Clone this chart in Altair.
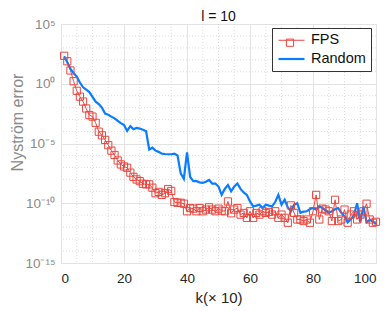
import altair as alt
import pandas as pd

# ---- data (log10 of the Nyström error) ----
k_values = list(range(1, 101))

fps_log10 = [
    2.34, 1.88, 1.11, 0.21, -0.59, -1.08, -1.49, -2.07, -2.62, -2.75,
    -3.27, -4.01, -4.32, -4.70, -5.14, -5.60, -5.96, -6.42, -6.75, -6.92,
    -7.03, -7.44, -7.79, -8.01, -8.15, -8.37, -8.42, -8.42, -8.70, -9.16,
    -9.05, -9.30, -9.16, -8.81, -8.97, -9.90, -9.96, -9.96, -10.04, -10.67,
    -10.40, -10.45, -10.67, -10.40, -10.67, -10.53, -10.34, -10.53, -10.67, -10.45,
    -10.62, -10.67, -9.85, -10.84, -10.53, -10.40, -10.95, -10.81, -11.22, -10.67,
    -11.22, -10.81, -10.95, -10.67, -10.81, -10.73, -10.95, -10.67, -11.22, -10.95,
    -11.22, -11.63, -10.18, -10.81, -11.36, -11.36, -11.49, -11.36, -11.63, -10.67,
    -9.30, -11.36, -10.45, -10.53, -10.67, -11.49, -9.71, -11.49, -11.36, -10.53,
    -11.63, -10.95, -10.67, -11.36, -10.95, -10.67, -10.04, -11.36, -11.63, -11.55,
]

random_log10 = [
    2.30, 1.80, 1.25, 0.90, 0.60, 0.10, -0.30, -0.50, -0.70, -1.10,
    -1.50, -1.70, -2.00, -2.50, -2.60, -2.75, -2.90, -3.10, -3.30, -3.45,
    -3.95, -3.55, -3.80, -3.70, -3.75, -3.85, -3.95, -5.50, -5.35, -5.60,
    -5.70, -5.85, -5.88, -5.90, -5.90, -5.85, -6.00, -7.50, -7.95, -5.75,
    -7.80, -8.15, -8.15, -8.25, -8.30, -8.20, -8.05, -8.35, -8.35, -8.60,
    -9.30, -8.80, -8.47, -9.00, -8.60, -8.34, -8.80, -9.10, -9.30, -9.85,
    -10.25, -10.20, -10.12, -10.40, -10.12, -10.20, -10.26, -9.90, -9.30, -10.12,
    -9.70, -10.34, -10.67, -10.12, -10.00, -10.80, -10.70, -10.67, -10.50, -10.40,
    -10.53, -10.26, -10.40, -10.60, -10.80, -10.67, -10.50, -10.40, -10.80, -11.10,
    -11.60, -11.35, -11.00, -10.00, -11.60, -10.26, -11.60, -11.40, -11.50, -11.76,
]

series_names = ["FPS", "Random"]
series_colors = ["#e8473f", "#0a7cff"]
series_widths = [1, 2.2]
chart_title = "l = 10"

y_major = [1e5, 1e0, 1e-5, 1e-10, 1e-15]
y_minor = [10.0 ** e for e in range(-14, 5) if e % 5 != 0]
x_minor = [v for v in range(5, 100, 5) if v % 20 != 0]

FONT = "Liberation Sans"
W, H = 315, 239

rows = []
for name, logs in zip(series_names, [fps_log10, random_log10]):
    for k, lv in zip(k_values, logs):
        rows.append({"k": k, "err": 10.0 ** lv, "series": name})
df = pd.DataFrame(rows)
df_fps = df[df["series"] == "FPS"].copy()
df_fps["marker"] = "FPS"

x_enc = alt.X(
    "k:Q",
    scale=alt.Scale(domain=[0, 100], nice=False),
    axis=alt.Axis(
        values=[0, 20, 40, 60, 80, 100], title="k(× 10)", grid=True,
        gridColor="#e3e3e3", tickSize=0, domain=False, labelPadding=8,
        labelFont=FONT, labelFontSize=13.5, labelColor="#262626",
        titleFont=FONT, titleFontSize=15, titleFontWeight="normal",
        titleColor="#262626", titleY=34, titleBaseline="middle",
    ),
)
y_enc = alt.Y(
    "err:Q",
    scale=alt.Scale(type="log", domain=[1e-15, 1e5], nice=False),
    axis=alt.Axis(
        values=y_major, title="Nyström error", grid=True, gridColor="#e3e3e3",
        tickSize=0, domain=False, labelPadding=6,
        labelExpr="datum.value > 1e4 ? '10⁵' : datum.value > 0.1 ? '10⁰' : datum.value > 1e-6 ? '10⁻⁵' : datum.value > 1e-11 ? '10⁻¹⁰' : '10⁻¹⁵'",
        labelFont=FONT, labelFontSize=13.5, labelColor="#8a8a8a",
        titleFont=FONT, titleFontSize=16, titleFontWeight="normal",
        titleColor="#8a8a8a", titleX=-44, titleY=98, titleBaseline="middle",
        titleAlign="center",
    ),
)

minor_y = alt.Chart(pd.DataFrame({"err": y_minor})).mark_rule(
    color="#dcdcdc", strokeDash=[1, 2], strokeWidth=1
).encode(y=y_enc)
minor_x = alt.Chart(pd.DataFrame({"k": x_minor})).mark_rule(
    color="#dcdcdc", strokeDash=[1, 2], strokeWidth=1
).encode(x=x_enc)

legend_main = alt.Legend(
    orient="none", legendX=211, legendY=4, title=None,
    fillColor="white", strokeColor="#333333", padding=5,
    symbolType="M-1,0H3", symbolSize=169, labelOffset=18, rowPadding=4,
    labelFont=FONT, labelFontSize=14.5, labelColor="#111111", zindex=1,
)

lines = alt.Chart(df).mark_line().encode(
    x=x_enc,
    y=y_enc,
    color=alt.Color("series:N", scale=alt.Scale(domain=series_names, range=series_colors), legend=legend_main),
    strokeWidth=alt.StrokeWidth("series:N", scale=alt.Scale(domain=series_names, range=series_widths), legend=legend_main),
    order="k:Q",
)

points = alt.Chart(df_fps).mark_point(filled=False, size=52, strokeWidth=1, color=series_colors[0], opacity=1).encode(
    x=x_enc,
    y=y_enc,
    shape=alt.Shape(
        "marker:N",
        scale=alt.Scale(domain=["FPS"], range=["square"]),
        legend=alt.Legend(
            orient="none", legendX=224.5, legendY=14.2, title=None, padding=0,
            labelExpr="''", labelFontSize=7, symbolSize=52,
            symbolStrokeColor=series_colors[0], symbolStrokeWidth=1,
            symbolFillColor="transparent", zindex=3,
        ),
    ),
)

title_text = alt.Chart(pd.DataFrame({"t": [chart_title]})).mark_text(
    font=FONT, fontSize=14, color="#111111", align="center", baseline="alphabetic"
).encode(x=alt.value(W / 2), y=alt.value(-3), text="t:N")

chart = alt.layer(minor_y, minor_x, lines, points, title_text).properties(
    width=W,
    height=H,
    autosize=alt.AutoSizeParams(type="none"),
    padding={"left": 53, "top": 16, "right": 6, "bottom": 48},
).configure_view(stroke="#9a9a9a", strokeWidth=1).configure(background="white")

chart.save("out.html", embed_options={"renderer": "svg", "actions": False})
